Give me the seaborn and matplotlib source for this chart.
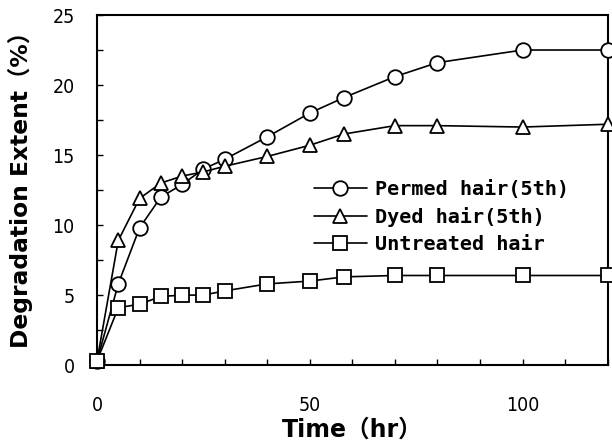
import matplotlib
matplotlib.use("Agg")
import matplotlib.pyplot as plt
import seaborn as sns
import pandas as pd
from matplotlib.ticker import MultipleLocator

time_hr = [0, 5, 10, 15, 20, 25, 30, 40, 50, 58, 70, 80, 100, 120]
permed = [0.3, 5.8, 9.8, 12.0, 12.9, 14.0, 14.7, 16.3, 18.0, 19.1, 20.6, 21.6, 22.5, 22.5]
dyed = [0.3, 8.9, 11.9, 13.0, 13.5, 13.8, 14.2, 14.9, 15.7, 16.5, 17.1, 17.1, 17.0, 17.2]
untreated = [0.3, 4.1, 4.35, 4.9, 5.0, 5.0, 5.3, 5.8, 6.0, 6.3, 6.4, 6.4, 6.4, 6.4]
series_names = ["Permed hair(5th)", "Dyed hair(5th)", "Untreated hair"]
series_markers = ["o", "^", "s"]

rows = []
for name, vals in zip(series_names, [permed, dyed, untreated]):
    for t, v in zip(time_hr, vals):
        rows.append({"Time": t, "Extent": v, "Series": name})
df = pd.DataFrame(rows)

sns.set_style("ticks")
plt.rcParams["font.family"] = ["DejaVu Sans", "Noto Sans CJK JP"]
plt.rcParams["text.color"] = "black"
plt.rcParams["axes.labelcolor"] = "black"
plt.rcParams["xtick.color"] = "black"
plt.rcParams["ytick.color"] = "black"

fig = plt.figure(figsize=(6.12, 4.48), dpi=100)
ax = fig.add_axes([0.1585, 0.185, 0.8345, 0.7815])

sns.lineplot(data=df, x="Time", y="Extent", style="Series",
             markers=dict(zip(series_names, series_markers)),
             dashes=False, style_order=series_names, color="black",
             markerfacecolor="white", markeredgecolor="black",
             markeredgewidth=1.3, markersize=10.5, linewidth=1.2,
             ax=ax, legend=False, clip_on=False, zorder=3)

ax.set_xlim(0, 120)
ax.set_ylim(0, 25)
ax.xaxis.set_major_locator(MultipleLocator(50))
ax.xaxis.set_minor_locator(MultipleLocator(10))
ax.yaxis.set_major_locator(MultipleLocator(5))
ax.yaxis.set_minor_locator(MultipleLocator(2.5))
ax.tick_params(axis="both", which="both", direction="in", length=4, width=1,
               top=False, right=False, colors="black")
ax.tick_params(axis="y", which="major", pad=16, labelsize=14)
ax.tick_params(axis="x", which="major", pad=22, labelsize=14)
for lab in ax.get_xticklabels() + ax.get_yticklabels():
    lab.set_fontstretch("condensed")
for sp in ax.spines.values():
    sp.set_visible(True)
    sp.set_linewidth(1.5)
    sp.set_color("black")

ax.set_xlabel("Time（hr）", fontsize=17, fontweight="bold", labelpad=2, color="black")
ax.set_ylabel("Degradation Extent（%）", fontsize=16.8, fontweight="bold",
              color="black")
ax.yaxis.set_label_coords(-0.125, 0.517)

handles = ax.get_lines()[:3]
leg = ax.legend(handles, series_names, loc="upper left",
                bbox_to_anchor=(0.39, 0.58), frameon=False,
                handlelength=2.6, handletextpad=0.4, labelspacing=0.4,
                prop={"family": "DejaVu Sans Mono", "weight": "bold", "size": 14.5})
for t in leg.get_texts():
    t.set_color("black")

fig.savefig("out.png", dpi=100)
